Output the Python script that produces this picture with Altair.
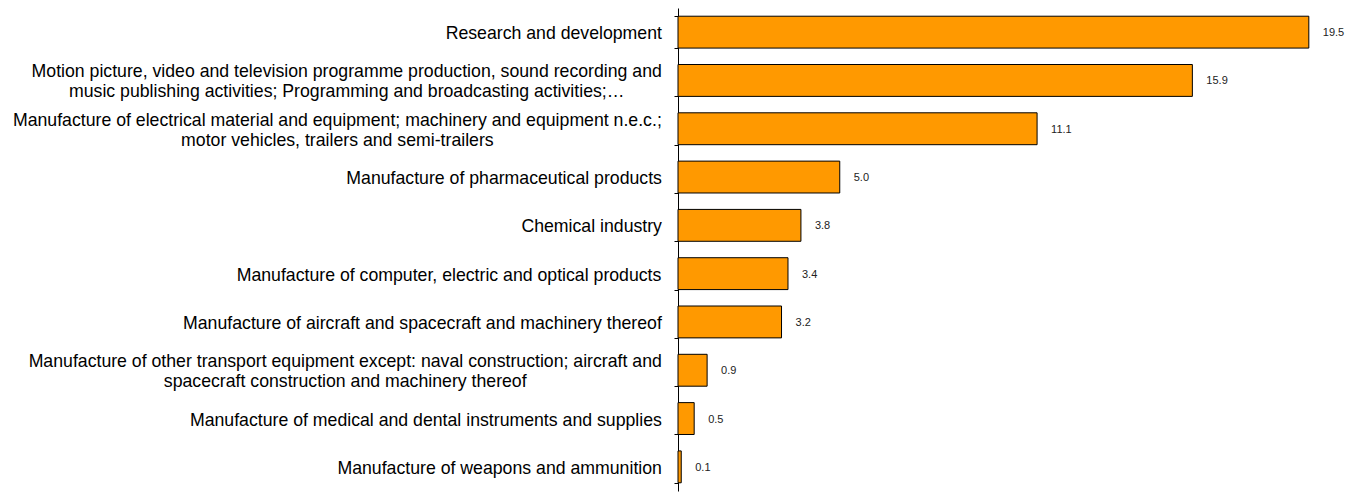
import altair as alt
import pandas as pd

categories = [
    "Research and development",
    "Motion picture, video and television programme production, sound recording and\nmusic publishing activities; Programming and broadcasting activities;\u2026",
    "Manufacture of electrical material and equipment; machinery and equipment n.e.c.;\nmotor vehicles, trailers and semi-trailers",
    "Manufacture of pharmaceutical products",
    "Chemical industry",
    "Manufacture of computer, electric and optical products",
    "Manufacture of aircraft and spacecraft and machinery thereof",
    "Manufacture of other transport equipment except: naval construction; aircraft and\nspacecraft construction and machinery thereof",
    "Manufacture of medical and dental instruments and supplies",
    "Manufacture of weapons and ammunition",
]
values = [19.5, 15.9, 11.1, 5.0, 3.8, 3.4, 3.2, 0.9, 0.5, 0.1]

LABEL_SIZE = 17.7
LABEL_GAP = 16
LINE_HEIGHT = 20

# Arial / Liberation Sans advance widths (per 1000 em) used to centre wrapped lines
_W = dict(zip("abcdefghijklmnopqrstuvwxyz",
              [556, 556, 500, 556, 556, 278, 556, 556, 222, 222, 500, 222, 833,
               556, 556, 556, 556, 333, 500, 278, 556, 500, 722, 500, 500, 500]))
_W.update({" ": 278, ",": 278, ".": 278, ";": 278, ":": 278, "-": 333,
           "\u2026": 1000, "M": 833, "R": 722, "C": 722, "P": 667})


def text_width(s, size):
    return sum(_W.get(ch, 556) for ch in s) / 1000.0 * size


df = pd.DataFrame({"cat": categories, "value": values})
df["nlines"] = [c.count("\n") + 1 for c in categories]
df["label_x"] = [
    -LABEL_GAP - max(text_width(line, LABEL_SIZE) for line in c.split("\n")) / 2
    for c in categories
]

yenc = alt.Y(
    "cat:N",
    sort=categories,
    title=None,
    scale=alt.Scale(paddingInner=0.34, paddingOuter=0.17),
    axis=alt.Axis(
        labels=False,
        tickBand="extent",
        tickSize=4,
        tickColor="black",
        domainColor="black",
        domainWidth=1,
        tickWidth=1,
        grid=False,
    ),
)

base = alt.Chart(df)

bars = base.mark_bar(fill="#FF9900", stroke="black", strokeWidth=1).encode(
    x=alt.X("value:Q", scale=alt.Scale(domain=[0, 20]), axis=None),
    y=yenc,
)

values_text = base.mark_text(
    align="left", baseline="middle", dx=14, dy=1, fontSize=11,
    font="Liberation Sans", color="#222222",
).encode(
    x=alt.X("value:Q"),
    y=yenc,
    text=alt.Text("value:Q", format=".1f"),
)

label_style = dict(
    align="center", baseline="middle", fontSize=LABEL_SIZE,
    font="Liberation Sans", color="black", lineBreak="\n",
    lineHeight=LINE_HEIGHT,
)
label_enc = dict(x=alt.X("label_x:Q", scale=None), y=yenc, text="cat:N")

labels_one = base.transform_filter("datum.nlines == 1").mark_text(
    dy=2, **label_style
).encode(**label_enc)

labels_two = base.transform_filter("datum.nlines == 2").mark_text(
    dy=2 - LINE_HEIGHT / 2, **label_style
).encode(**label_enc)

chart = (
    alt.layer(bars, values_text, labels_one, labels_two)
    .properties(
        width=647,
        height=483,
        padding={"left": 670, "top": 0, "right": 29, "bottom": 1},
        autosize=alt.AutoSizeParams(type="none"),
    )
    .configure_view(stroke=None)
)

chart.save("out.html", embed_options={"renderer": "svg", "actions": False})
